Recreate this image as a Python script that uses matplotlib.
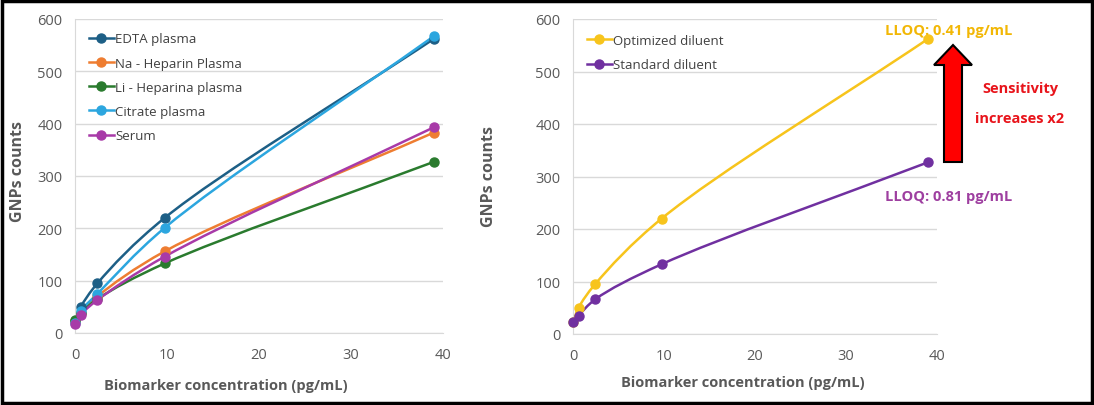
import numpy as np
import matplotlib.pyplot as plt
from matplotlib.path import Path
from matplotlib.patches import PathPatch, Polygon, Rectangle
from matplotlib.lines import Line2D

plt.rcParams['font.family'] = ['Open Sans', 'DejaVu Sans']

# concentrations (pg/mL)
conc = [0, 0.61, 2.44, 9.75, 39]

# left panel: matrices
matrix_names = ['EDTA plasma', 'Na - Heparin Plasma', 'Li - Heparina plasma', 'Citrate plasma', 'Serum']
edta = [22, 49, 95, 220, 562]
na_hep = [22, 38, 70, 156, 383]
li_hep = [24, 38, 65, 133, 327]
citrate = [20, 42, 75, 201, 567]
serum = [18, 35, 63, 146, 393]
matrix_colors = ['#1d5f86', '#ee7d31', '#2a7b2e', '#2ca6df', '#a83aa8']

# right panel: diluents
diluent_names = ['Optimized diluent', 'Standard diluent']
optimized = [22, 50, 95, 220, 562]
standard = [23, 35, 66, 133, 327]
diluent_colors = ['#f7c41c', '#7030a0']

W, H = 1094, 406
GRAY = '#595959'
SX, SY = 368 / 40, 314 / 600   # rough px per data unit, for smoothing shape


def smooth_patch(x, y, color):
    # smoothed line: centripetal Catmull-Rom written as cubic Beziers (screen-like space)
    p = np.column_stack([np.asarray(x) * SX, np.asarray(y) * SY]).astype(float)
    n = len(p)
    seg = np.diff(p, axis=0)
    dt = np.sqrt(np.hypot(seg[:, 0], seg[:, 1]))
    verts = [p[0]]
    codes = [Path.MOVETO]
    for i in range(n - 1):
        if i == 0:
            c1 = p[0] + seg[0] / 3
        else:
            m = seg[i - 1] / dt[i - 1] - (p[i + 1] - p[i - 1]) / (dt[i - 1] + dt[i]) + seg[i] / dt[i]
            c1 = p[i] + m * dt[i] / 3
        if i == n - 2:
            c2 = p[i + 1] - seg[i] / 3
        else:
            m = seg[i] / dt[i] - (p[i + 2] - p[i]) / (dt[i] + dt[i + 1]) + seg[i + 1] / dt[i + 1]
            c2 = p[i + 1] - m * dt[i] / 3
        verts += [c1, c2, p[i + 1]]
        codes += [Path.CURVE4] * 3
    verts = np.array(verts) / [SX, SY]
    return PathPatch(Path(verts, codes), fill=False, edgecolor=color, lw=1.8,
                     capstyle='round', joinstyle='round', zorder=2)


def frac(px, py):
    return px / W, 1 - py / H


def style_axes(ax):
    ax.set_xlim(0, 40)
    ax.set_ylim(0, 600)
    ax.set_xticks([0, 10, 20, 30, 40])
    ax.set_yticks(range(0, 601, 100))
    ax.grid(axis='y', color='#d9d9d9', lw=1)
    ax.set_axisbelow(True)
    for s in ['top', 'right']:
        ax.spines[s].set_visible(False)
    for s in ['left', 'bottom']:
        ax.spines[s].set_color('#d9d9d9')
    ax.tick_params(length=0, labelsize=10.5, colors=GRAY)
    ax.tick_params(axis='y', pad=9)
    ax.tick_params(axis='x', pad=10)


fig = plt.figure(figsize=(W / 100, H / 100), dpi=100)

ax1 = fig.add_axes([75 / W, 1 - 334 / H, 368 / W, 314 / H])
ax2 = fig.add_axes([573 / W, 1 - 335 / H, 364 / W, 315 / H])

handles = []
for name, vals, col in zip(matrix_names, [edta, na_hep, li_hep, citrate, serum], matrix_colors):
    ax1.add_patch(smooth_patch(conc, vals, col))
    ax1.plot(conc, vals, 'o', color=col, ms=6.5, zorder=3, clip_on=False)
    handles.append(Line2D([], [], color=col, lw=1.8, marker='o', ms=6.5, label=name))
style_axes(ax1)
ax1.legend(handles=handles, loc='upper left', bbox_to_anchor=(0.005, 0.995), frameon=False,
           fontsize=9.5, handlelength=1.9, handletextpad=0.1, labelspacing=0.85,
           labelcolor='#404040', borderaxespad=0.5)

handles = []
for name, vals, col in zip(diluent_names, [optimized, standard], diluent_colors):
    ax2.add_patch(smooth_patch(conc, vals, col))
    ax2.plot(conc, vals, 'o', color=col, ms=6.5, zorder=3, clip_on=False)
    handles.append(Line2D([], [], color=col, lw=1.8, marker='o', ms=6.5, label=name))
style_axes(ax2)
ax2.legend(handles=handles, loc='upper left', bbox_to_anchor=(0.005, 0.99), frameon=False,
           fontsize=9.5, handlelength=1.9, handletextpad=0.1, labelspacing=0.85,
           labelcolor='#404040', borderaxespad=0.5)

# axis titles
fig.text(*frac(18, 172), 'GNPs counts', rotation=90, ha='center', va='center',
         fontsize=11.5, fontweight='bold', color=GRAY)
fig.text(*frac(489, 177), 'GNPs counts', rotation=90, ha='center', va='center',
         fontsize=11.5, fontweight='bold', color=GRAY)
fig.text(*frac(226, 386), 'Biomarker concentration (pg/mL)', ha='center', va='center',
         fontsize=10.5, fontweight='bold', color=GRAY)
fig.text(*frac(743, 383), 'Biomarker concentration (pg/mL)', ha='center', va='center',
         fontsize=10.5, fontweight='bold', color=GRAY)

# annotations
fig.text(*frac(949, 31), 'LLOQ: 0.41 pg/mL', ha='center', va='center',
         fontsize=10.5, fontweight='bold', color='#f2b705')
fig.text(*frac(949, 197), 'LLOQ: 0.81 pg/mL', ha='center', va='center',
         fontsize=10.5, fontweight='bold', color='#9e3fa0')
fig.text(*frac(1020, 89), 'Sensitivity', ha='center', va='center',
         fontsize=10.5, fontweight='bold', color='#e8141b')
fig.text(*frac(1020, 119), 'increases x2', ha='center', va='center',
         fontsize=10.5, fontweight='bold', color='#e8141b')

arrow_px = [(944, 163), (944, 66), (934, 66), (953, 46), (972, 66), (962, 66), (962, 163)]
fig.patches.append(Polygon([frac(*p) for p in arrow_px], closed=True, transform=fig.transFigure,
                           facecolor='#ff0000', edgecolor='black', lw=1.5, figure=fig))

# outer frame
fig.patches.append(Rectangle((2 / W, 2 / H), 1 - 4 / W, 1 - 4 / H, transform=fig.transFigure,
                             fill=False, edgecolor='black', lw=2.5, figure=fig))

fig.savefig('out.png', dpi=100)
